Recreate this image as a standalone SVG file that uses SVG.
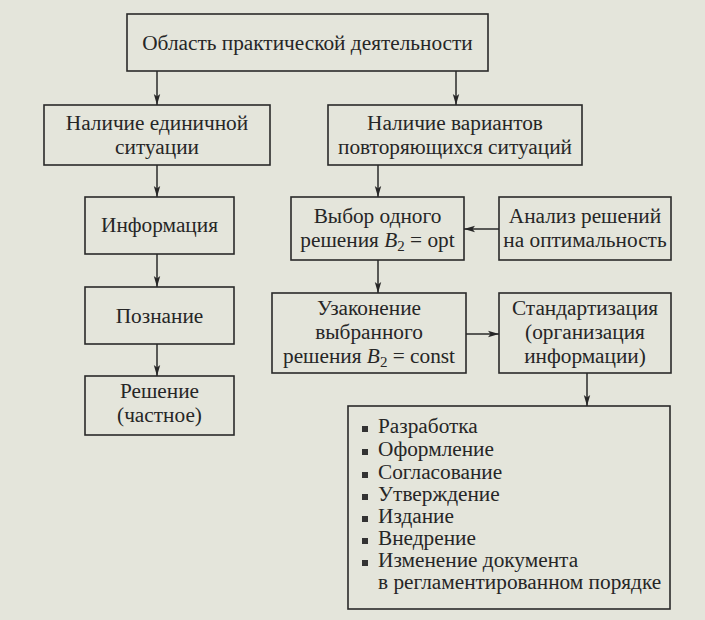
<svg xmlns="http://www.w3.org/2000/svg" width="705" height="620" viewBox="0 0 705 620">
<defs>
<marker id="ah" markerWidth="12" markerHeight="8" refX="11" refY="4" orient="auto" markerUnits="userSpaceOnUse">
<path d="M0,0.8 L11,4 L0,7.2 L2.5,4 Z" fill="#262626"/>
</marker>
<style>
.box{fill:none;stroke:#2a2a2a;stroke-width:1.6}
text{font-family:"Liberation Serif","DejaVu Serif",serif;font-size:21.3px;fill:#262626}
.t{text-anchor:middle}
.i{font-style:italic}
.s{font-size:15px}
.b{fill:#333}
.c{fill:none;stroke:#2a2a2a;stroke-width:1.5;marker-end:url(#ah)}
</style>
</defs>
<rect width="705" height="620" fill="#e4e5db"/>
<g id="n1"><rect class="box" x="127" y="14" width="361" height="57"/><text class="t" x="307.5" y="50">Область практической деятельности</text></g>
<g id="n2"><rect class="box" x="44" y="105" width="226" height="60"/><text class="t" x="157" y="130">Наличие единичной</text><text class="t" x="157" y="154">ситуации</text></g>
<g id="n3"><rect class="box" x="328" y="105" width="254" height="60"/><text class="t" x="455" y="130">Наличие вариантов</text><text class="t" x="455" y="154">повторяющихся ситуаций</text></g>
<g id="n4"><rect class="box" x="85" y="197" width="149" height="57"/><text class="t" x="159.5" y="232">Информация</text></g>
<g id="n5"><rect class="box" x="291" y="197" width="173" height="63"/><text class="t" x="377.5" y="223">Выбор одного</text><text class="t" x="377.5" y="247">решения <tspan class="i">B</tspan><tspan class="s" dy="4">2</tspan><tspan dy="-4"> = opt</tspan></text></g>
<g id="n6"><rect class="box" x="499" y="197" width="172" height="63"/><text class="t" x="585" y="223">Анализ решений</text><text class="t" x="585" y="247">на оптимальность</text></g>
<g id="n7"><rect class="box" x="85" y="287" width="149" height="57"/><text class="t" x="159.5" y="323">Познание</text></g>
<g id="n8"><rect class="box" x="272" y="293" width="194" height="80"/><text class="t" x="369" y="315">Узаконение</text><text class="t" x="369" y="339">выбранного</text><text class="t" x="369" y="363">решения <tspan class="i">B</tspan><tspan class="s" dy="4">2</tspan><tspan dy="-4"> = const</tspan></text></g>
<g id="n9"><rect class="box" x="499" y="293" width="172" height="80"/><text class="t" x="585" y="315">Стандартизация</text><text class="t" x="585" y="339">(организация</text><text class="t" x="585" y="363">информации)</text></g>
<g id="n10"><rect class="box" x="85" y="376" width="149" height="59"/><text class="t" x="159.5" y="398">Решение</text><text class="t" x="159.5" y="422">(частное)</text></g>
<g id="n11"><rect class="box" x="348" y="406" width="322" height="203"/>
<rect class="b" x="362" y="426" width="6" height="6"/><text x="378" y="433">Разработка</text>
<rect class="b" x="362" y="449" width="6" height="6"/><text x="378" y="456">Оформление</text>
<rect class="b" x="362" y="472" width="6" height="6"/><text x="378" y="479">Согласование</text>
<rect class="b" x="362" y="494" width="6" height="6"/><text x="378" y="501">Утверждение</text>
<rect class="b" x="362" y="516" width="6" height="6"/><text x="378" y="523">Издание</text>
<rect class="b" x="362" y="538" width="6" height="6"/><text x="378" y="545">Внедрение</text>
<rect class="b" x="362" y="560" width="6" height="6"/><text x="378" y="567">Изменение документа</text>
<text x="378" y="589">в регламентированном порядке</text></g>
<g id="connectors">
<line class="c" x1="157" y1="71" x2="157" y2="105"/>
<line class="c" x1="456" y1="71" x2="456" y2="105"/>
<line class="c" x1="157" y1="165" x2="157" y2="197"/>
<line class="c" x1="378" y1="165" x2="378" y2="197"/>
<line class="c" x1="499" y1="229" x2="464" y2="229"/>
<line class="c" x1="157" y1="254" x2="157" y2="287"/>
<line class="c" x1="378" y1="260" x2="378" y2="293"/>
<line class="c" x1="157" y1="344" x2="157" y2="376"/>
<line class="c" x1="466" y1="334" x2="499" y2="334"/>
<line class="c" x1="587" y1="373" x2="587" y2="406"/>
</g>
</svg>
